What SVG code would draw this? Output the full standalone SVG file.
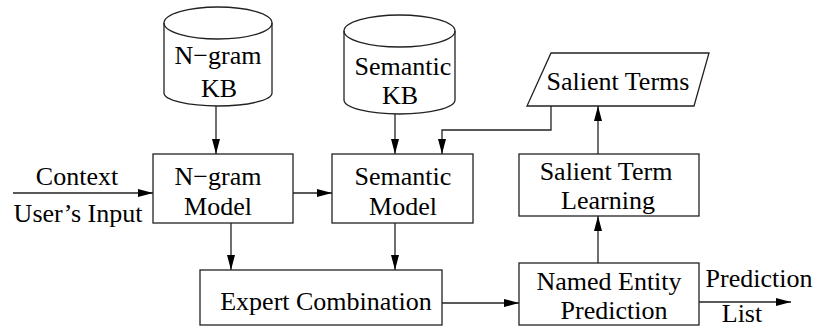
<svg xmlns="http://www.w3.org/2000/svg" width="817" height="328" viewBox="0 0 817 328">
<style>
.s{fill:#fff;stroke:#222;stroke-width:1.3}
.c{fill:none;stroke:#222;stroke-width:1.3}
.t text{font-family:'Liberation Serif','Times New Roman','DejaVu Serif',serif;font-size:26px;fill:#000;text-anchor:middle}
</style>
<defs>
<marker id="a" viewBox="0 0 15 8" refX="15" refY="4" markerWidth="15" markerHeight="8" markerUnits="userSpaceOnUse" orient="auto">
<path d="M0,0 L15,4 L0,8 Z" fill="#000"/>
</marker>
</defs>
<rect width="817" height="328" fill="#fff"/>
<g class="t" font-family="'Liberation Serif', 'DejaVu Serif', serif">
<g id="ngram-kb">
<path class="s" d="M164,23 L164,93 A54,13 0 0 0 272,93 L272,23 A54,16 0 0 0 164,23 Z"/>
<path class="c" d="M164,23 A54,16 0 0 0 272,23"/>
<text x="218" y="64">N−gram</text>
<text x="219" y="97">KB</text>
</g>
<g id="semantic-kb">
<path class="s" d="M344,31 L344,100 A55.5,14 0 0 0 455,100 L455,31 A55.5,16 0 0 0 344,31 Z"/>
<path class="c" d="M344,31 A55.5,16 0 0 0 455,31"/>
<text x="403" y="75">Semantic</text>
<text x="400" y="104">KB</text>
</g>
<g id="salient-terms">
<polygon class="s" points="551,53 709,53 694,106 527,106"/>
<text x="618" y="90">Salient Terms</text>
</g>
<g id="ngram-model">
<rect class="s" x="153" y="154" width="140" height="69"/>
<text x="218" y="185">N−gram</text>
<text x="218" y="215">Model</text>
</g>
<g id="semantic-model">
<rect class="s" x="332" y="154" width="141" height="69"/>
<text x="403" y="185">Semantic</text>
<text x="403" y="215">Model</text>
</g>
<g id="salient-term-learning">
<rect class="s" x="519" y="154" width="180" height="62"/>
<text x="606" y="180">Salient Term</text>
<text x="608" y="209">Learning</text>
</g>
<g id="expert-combination">
<rect class="s" x="200" y="270" width="242" height="55"/>
<text x="326" y="310">Expert Combination</text>
</g>
<g id="named-entity-prediction">
<rect class="s" x="519" y="263" width="180" height="62"/>
<text x="609" y="290">Named Entity</text>
<text x="614" y="319">Prediction</text>
</g>
<g id="labels">
<text x="77" y="185">Context</text>
<text x="78" y="222">User’s Input</text>
<text x="759" y="287">Prediction</text>
<text x="742" y="322">List</text>
</g>
</g>
<g id="connectors">
<line class="c" x1="216" y1="106" x2="216" y2="154" marker-end="url(#a)"/>
<line class="c" x1="395" y1="114" x2="395" y2="154" marker-end="url(#a)"/>
<polyline class="c" points="551,106 551,130 442,130 442,154" marker-end="url(#a)"/>
<line class="c" x1="598" y1="154" x2="598" y2="106" marker-end="url(#a)"/>
<line class="c" x1="598" y1="263" x2="598" y2="216" marker-end="url(#a)"/>
<line class="c" x1="13" y1="193" x2="153" y2="193" marker-end="url(#a)"/>
<line class="c" x1="293" y1="193" x2="332" y2="193" marker-end="url(#a)"/>
<line class="c" x1="231" y1="223" x2="231" y2="270" marker-end="url(#a)"/>
<line class="c" x1="395" y1="223" x2="395" y2="270" marker-end="url(#a)"/>
<line class="c" x1="442" y1="303" x2="519" y2="303" marker-end="url(#a)"/>
<line class="c" x1="699" y1="302" x2="791" y2="302" marker-end="url(#a)"/>
</g>
</svg>
